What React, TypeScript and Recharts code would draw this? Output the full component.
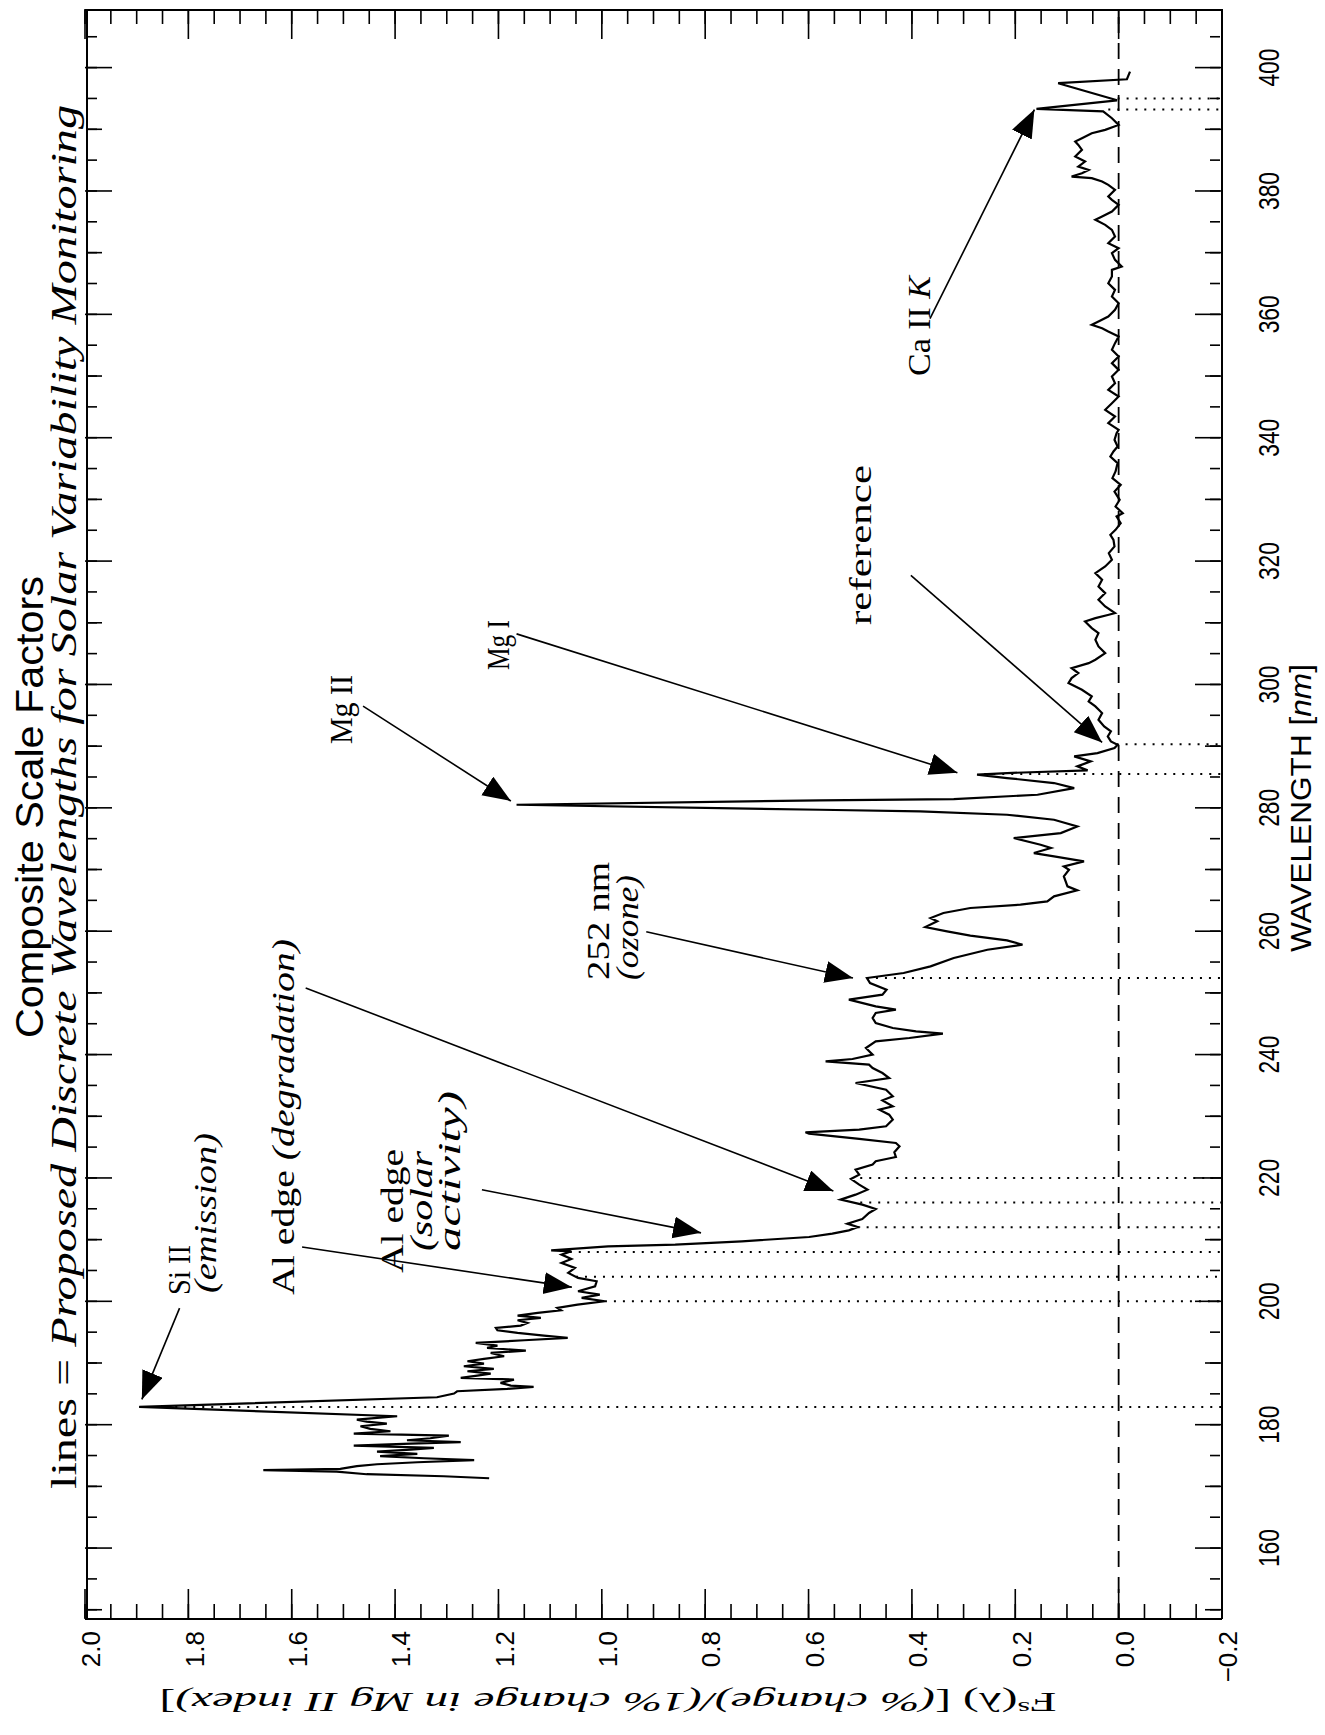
import React from 'react';
import { LineChart, Line, XAxis, YAxis, ReferenceLine } from 'recharts';

const CHART_W = 1735;
const CHART_H = 1325;

const WL_DOMAIN: [number, number] = [148.5, 409.5];
const FS_DOMAIN: [number, number] = [-0.2, 2.0];

const WL_MAJOR_TICKS = [160, 180, 200, 220, 240, 260, 280, 300, 320, 340, 360, 380, 400];
const WL_MID_TICKS = [150, 170, 190, 210, 230, 250, 270, 290, 310, 330, 350, 370, 390];
const WL_MINOR_TICKS = [150, 155, 160, 165, 170, 175, 180, 185, 190, 195, 200, 205, 210, 215, 220, 225, 230, 235, 240, 245, 250, 255, 260, 265, 270, 275, 280, 285, 290, 295, 300, 305, 310, 315, 320, 325, 330, 335, 340, 345, 350, 355, 360, 365, 370, 375, 380, 385, 390, 395, 400, 405];
const FS_MAJOR_TICKS = [-0.2, 0, 0.2, 0.4, 0.6, 0.8, 1.0, 1.2, 1.4, 1.6, 1.8, 2.0];
const FS_MINOR_TICKS = [-0.2, -0.15, -0.1, -0.05, 0, 0.05, 0.1, 0.15, 0.2, 0.25, 0.3, 0.35, 0.4, 0.45, 0.5, 0.55, 0.6, 0.65, 0.7, 0.75, 0.8, 0.85, 0.9, 0.95, 1.0, 1.05, 1.1, 1.15, 1.2, 1.25, 1.3, 1.35, 1.4, 1.45, 1.5, 1.55, 1.6, 1.65, 1.7, 1.75, 1.8, 1.85, 1.9, 1.95, 2.0];

// spectrum, [wavelength nm, Fs]
const SEG_FUV: [number, number][] = [
  [171.32, 1.218], [171.64, 1.306], [171.97, 1.455], [172.4, 1.513], [172.62, 1.655], [172.83, 1.506],
  [173.27, 1.474], [173.59, 1.435], [173.91, 1.357], [174.24, 1.247], [174.56, 1.344], [174.89, 1.429],
  [175.26, 1.357], [175.64, 1.435], [175.97, 1.37], [176.24, 1.325], [176.62, 1.48], [176.94, 1.37],
  [177.16, 1.273], [177.48, 1.377], [177.8, 1.332], [178.24, 1.296], [178.56, 1.48], [178.94, 1.409],
  [179.32, 1.448], [179.75, 1.467], [180.18, 1.416], [180.5, 1.455], [180.83, 1.474], [181.1, 1.435],
  [181.37, 1.396], [182.88, 1.895], [184.45, 1.319],
];
const SEG_SI: [number, number][] = [
  [185.04, 1.286], [185.42, 1.28], [185.8, 1.183], [186.12, 1.132], [186.34, 1.176], [186.77, 1.196],
  [187.31, 1.17], [187.58, 1.273], [187.96, 1.241], [188.28, 1.215], [188.66, 1.26], [189.04, 1.209],
  [189.47, 1.267], [189.9, 1.228], [190.28, 1.26], [190.66, 1.228], [191.09, 1.189], [191.63, 1.215],
  [192.01, 1.147], [192.44, 1.222], [192.82, 1.202], [193.25, 1.244], [193.69, 1.15], [194.07, 1.066],
  [194.44, 1.112], [194.87, 1.163], [195.31, 1.202], [195.69, 1.205], [196.06, 1.157], [196.5, 1.144],
  [196.93, 1.163], [197.31, 1.118], [197.69, 1.163], [198.12, 1.124], [198.55, 1.079], [198.93, 1.086],
  [199.47, 1.047],
];
const SEG_AL: [number, number][] = [
  [200.01, 0.994], [200.55, 1.039], [201.09, 1.004], [201.63, 1.046], [202.44, 1.013], [203.25, 1.01],
  [203.79, 1.046], [204.6, 1.065], [205.41, 1.052], [206.22, 1.078], [206.87, 1.059], [207.57, 1.078],
  [208.11, 1.059], [208.27, 1.098], [208.92, 0.988], [209.19, 0.858], [209.73, 0.729], [210.43, 0.599],
  [210.97, 0.554], [211.51, 0.522], [212.05, 0.505], [212.59, 0.525], [213.35, 0.496], [214.32, 0.483],
  [214.97, 0.47], [215.67, 0.496], [216.48, 0.538], [217.29, 0.509], [218.1, 0.486], [218.91, 0.502],
  [219.83, 0.518], [220.54, 0.502], [221.35, 0.509], [222.16, 0.476], [222.7, 0.47], [223.4, 0.431],
  [224.16, 0.434], [225.13, 0.424], [225.67, 0.431], [226.32, 0.502], [227.18, 0.599], [227.4, 0.606],
  [227.83, 0.502], [228.37, 0.45], [229.45, 0.437], [230.26, 0.444], [231.07, 0.463], [231.61, 0.437],
  [232.58, 0.457], [233.23, 0.437], [234.31, 0.45], [235.39, 0.509], [236.2, 0.444], [237.01, 0.457],
  [237.82, 0.476], [238.36, 0.483], [238.9, 0.567], [239.28, 0.515], [239.98, 0.476], [241.07, 0.489],
  [242.15, 0.47], [242.69, 0.405], [243.39, 0.34], [243.77, 0.392], [244.31, 0.437], [245.12, 0.47],
  [245.93, 0.476], [246.74, 0.47], [247.28, 0.431], [247.82, 0.47], [248.9, 0.522], [249.71, 0.457],
];
const SEG_MG: [number, number][] = [
  [250.52, 0.449], [251.6, 0.481], [252.41, 0.487], [253.22, 0.416], [254.3, 0.364], [255.65, 0.319],
  [257.0, 0.254], [257.81, 0.186], [258.52, 0.216], [259.27, 0.287], [259.97, 0.332], [260.68, 0.374],
  [261.6, 0.351], [262.13, 0.364], [262.95, 0.339], [263.76, 0.287], [264.3, 0.19], [264.84, 0.138],
  [265.65, 0.125], [266.62, 0.08], [267.27, 0.099], [268.89, 0.106], [269.97, 0.096], [270.51, 0.106],
  [271.32, 0.067], [272.13, 0.125], [272.67, 0.164], [273.48, 0.131], [274.02, 0.151], [275.1, 0.203],
  [275.91, 0.112], [276.99, 0.08], [278.07, 0.125], [278.88, 0.216], [279.42, 0.384], [279.69, 0.578],
  [280.5, 1.165], [281.21, 0.578], [281.42, 0.319], [282.12, 0.157], [283.2, 0.086], [284.02, 0.125],
  [284.83, 0.216], [285.37, 0.274], [285.64, 0.216], [286.07, 0.06], [286.72, 0.08], [287.53, 0.054],
  [288.34, 0.086], [288.88, 0.041], [289.69, 0.008], [290.23, 0.002], [290.77, 0.015], [291.58, 0.021],
  [292.39, 0.015], [293.2, 0.028],
];
const SEG_NUV: [number, number][] = [
  [294.28, 0.039], [295.36, 0.032], [296.44, 0.045], [297.25, 0.058], [298.06, 0.052], [299.14, 0.071],
  [300.22, 0.097], [301.03, 0.091], [301.84, 0.078], [302.65, 0.091], [303.46, 0.058], [304.0, 0.045],
  [305.08, 0.026], [306.16, 0.039], [307.24, 0.045], [308.32, 0.039], [309.13, 0.052], [310.22, 0.065],
  [310.76, 0.045], [311.3, 0.019], [311.57, 0.007], [312.65, 0.026], [313.73, 0.039], [314.81, 0.026],
  [315.89, 0.039], [316.97, 0.032], [318.05, 0.045], [319.13, 0.026], [320.21, 0.013], [321.29, 0.019],
  [322.37, 0.008], [323.45, 0.01], [324.26, 0.016], [325.07, 0.006], [326.15, -0.004], [327.23, 0.004],
  [327.77, -0.008], [328.85, 0.006], [329.93, -0.002], [331.28, 0.008], [332.37, -0.004], [333.45, 0.012],
  [334.53, 0.006], [335.88, 0.002], [336.96, 0.016], [337.77, 0.01], [338.58, 0.002], [339.66, 0.008],
];
const SEG_CA: [number, number][] = [
  [340.74, 0.004], [341.28, 0.0], [342.36, 0.02], [343.44, 0.007], [344.52, 0.026], [345.6, 0.013],
  [346.68, 0.0], [347.76, 0.02], [348.84, 0.007], [349.92, 0.013], [351.0, 0.0], [352.09, 0.013],
  [353.17, 0.0], [354.25, 0.013], [355.33, 0.007], [356.41, 0.0], [357.22, 0.02], [357.76, 0.032],
  [358.3, 0.052], [358.84, 0.039], [359.65, 0.02], [360.73, 0.007], [361.81, 0.0], [362.89, 0.013],
  [363.97, 0.007], [365.05, 0.02], [366.13, 0.013], [367.21, 0.013], [367.75, -0.006], [368.83, 0.007],
  [369.92, 0.013], [370.72, 0.0], [371.53, 0.02], [372.61, 0.007], [373.69, 0.013], [374.51, 0.026],
  [375.32, 0.045], [375.86, 0.032], [376.67, 0.013], [377.75, 0.0], [378.56, 0.013], [379.1, 0.02],
  [380.18, 0.007], [380.99, 0.02], [381.53, 0.032], [382.07, 0.052], [382.34, 0.091], [382.88, 0.071],
  [383.42, 0.058], [383.96, 0.078], [384.77, 0.065], [385.58, 0.084], [386.66, 0.071], [387.47, 0.078],
  [388.01, 0.084], [388.55, 0.071], [389.36, 0.052], [389.9, 0.026], [390.71, 0.0], [391.79, 0.013],
  [392.9, 0.03], [393.31, 0.159], [394.7, 0.003], [397.47, 0.117], [398.11, -0.016], [399.36, -0.022],
];

const SPECTRUM = [...SEG_FUV, ...SEG_SI, ...SEG_AL, ...SEG_MG, ...SEG_NUV, ...SEG_CA].map(([wl, fs]) => ({ wl, fs }));

// proposed discrete wavelengths (dotted markers), and where each marker leaves the curve
const MARKED_WL = [182.88, 200.0, 204.0, 208.0, 212.0, 216.0, 220.0, 252.4, 285.5, 290.3, 393.2, 395.0];
const MARKED_TOP = [1.895, 0.994, 1.05, 1.062, 0.505, 0.5, 0.5, 0.487, 0.26, 0.004, 0.02, 0.002];

// annotation arrows: [tail wl, tail fs, tip wl, tip fs]
const ARROWS: [number, number, number, number][] = [
  [198.9, 1.817, 184.1, 1.89],
  [208.8, 1.58, 202.3, 1.058],
  [250.8, 1.573, 217.9, 0.552],
  [218.1, 1.232, 211.1, 0.808],
  [259.9, 0.914, 252.4, 0.514],
  [296.5, 1.462, 281.1, 1.176],
  [308.2, 1.165, 285.7, 0.312],
  [317.7, 0.402, 290.6, 0.032],
  [359.3, 0.365, 393.2, 0.163],
];

const INK = '#000';
const SANS = 'Liberation Sans, Arial, sans-serif';
const SERIF = 'Liberation Serif, Times New Roman, serif';

const fmtFs = (v: number) => {
  const s = Math.abs(v).toFixed(1);
  return v < -1e-9 ? `\u2212${s}` : s;
};

const WlTick = (props: any) => {
  const { x, y, payload } = props;
  return (
    <text x={x} y={y + 57} textAnchor="middle" fontFamily={SANS} fontSize={30} textLength={38} lengthAdjust="spacingAndGlyphs" fill={INK}>
      {payload.value}
    </text>
  );
};

const FsTick = (props: any) => {
  const { x, y, payload } = props;
  return (
    <text x={x - 12} y={y + 6} dy="0.355em" textAnchor="end" fontFamily={SANS} fontSize={26} fill={INK}>
      {fmtFs(payload.value)}
    </text>
  );
};

// tick marks only, no label
const NoLabel = () => <g />;

const arrowShape = (p: any) => (
  <line x1={p.x1} y1={p.y1} x2={p.x2} y2={p.y2} stroke={INK} strokeWidth={1.6} markerEnd="url(#arrowHead)" />
);

type TxtProps = { x: number; y: number; len?: number; size?: number; family?: string; anchor?: 'start' | 'middle' | 'end'; children: React.ReactNode };
const Txt = ({ x, y, len, size = 32, family = SERIF, anchor = 'start', children }: TxtProps) => (
  <text x={x} y={y} fontSize={size} fontFamily={family} textAnchor={anchor} fill={INK}
    {...(len ? { textLength: len, lengthAdjust: 'spacingAndGlyphs' } : {})}>
    {children}
  </text>
);
const I = ({ children }: { children: React.ReactNode }) => <tspan fontStyle="italic">{children}</tspan>;

const tickLineStyle = { stroke: INK, strokeWidth: 1.6 };
const frameStyle = { stroke: INK, strokeWidth: 2 };

const wlTickAxis = (id: string, orientation: 'top' | 'bottom', ticks: number[], size: number, frame: boolean) => (
  <XAxis key={id} xAxisId={id} dataKey="wl" type="number" domain={WL_DOMAIN} allowDataOverflow ticks={ticks} interval={0}
    orientation={orientation} mirror height={1} tick={NoLabel} tickSize={size} tickLine={tickLineStyle} axisLine={frame ? frameStyle : false} />
);
const fsTickAxis = (id: string, orientation: 'left' | 'right', ticks: number[], size: number, frame: boolean) => (
  <YAxis key={id} yAxisId={id} type="number" domain={FS_DOMAIN} allowDataOverflow ticks={ticks} interval={0}
    orientation={orientation} mirror width={1} tick={NoLabel} tickSize={size} tickLine={tickLineStyle} axisLine={frame ? frameStyle : false} />
);

export default function App() {
  return (
    <div style={{ position: 'fixed', left: 0, top: 0, width: 1325, height: 1735, overflow: 'hidden', background: '#fff' }}>
      <div style={{ position: 'absolute', left: 0, top: 0, width: CHART_W, height: CHART_H, transformOrigin: '0 0', transform: `translate(0px, ${CHART_W}px) rotate(-90deg)` }}>
        <LineChart width={CHART_W} height={CHART_H} data={SPECTRUM} margin={{ top: 85, right: 9, bottom: 63, left: 56 }}>
          <XAxis xAxisId="wl" dataKey="wl" type="number" domain={WL_DOMAIN} allowDataOverflow ticks={WL_MAJOR_TICKS} interval={0}
            height={40} tickLine={false} tickSize={0} tickMargin={0} axisLine={frameStyle} tick={WlTick} />
          {wlTickAxis('wlMinB', 'bottom', WL_MINOR_TICKS, 10, false)}
          {wlTickAxis('wlMidB', 'bottom', WL_MID_TICKS, 16, false)}
          {wlTickAxis('wlMajB', 'bottom', WL_MAJOR_TICKS, 27, false)}
          {wlTickAxis('wlMinT', 'top', WL_MINOR_TICKS, 10, true)}
          {wlTickAxis('wlMidT', 'top', WL_MID_TICKS, 16, false)}
          {wlTickAxis('wlMajT', 'top', WL_MAJOR_TICKS, 27, false)}

          <YAxis yAxisId="fs" type="number" domain={FS_DOMAIN} allowDataOverflow ticks={FS_MAJOR_TICKS} interval={0}
            width={60} tickLine={false} tickSize={0} tickMargin={0} axisLine={frameStyle} tick={FsTick} />
          {fsTickAxis('fsMinL', 'left', FS_MINOR_TICKS, 14, false)}
          {fsTickAxis('fsMajL', 'left', FS_MAJOR_TICKS, 30, false)}
          {fsTickAxis('fsMinR', 'right', FS_MINOR_TICKS, 14, true)}
          {fsTickAxis('fsMajR', 'right', FS_MAJOR_TICKS, 30, false)}

          <ReferenceLine xAxisId="wl" yAxisId="fs" y={0} stroke={INK} strokeWidth={1.8} strokeDasharray="16 10" />
          {MARKED_WL.map((wl, i) => (
            <ReferenceLine key={`m${i}`} xAxisId="wl" yAxisId="fs" segment={[{ x: wl, y: MARKED_TOP[i] }, { x: wl, y: -0.2 }]}
              stroke={INK} strokeWidth={2} strokeDasharray="2 7" ifOverflow="visible" />
          ))}
          {ARROWS.map(([x1, y1, x2, y2], i) => (
            <ReferenceLine key={`a${i}`} xAxisId="wl" yAxisId="fs" segment={[{ x: x1, y: y1 }, { x: x2, y: y2 }]}
              ifOverflow="visible" shape={arrowShape} />
          ))}
          <Line xAxisId="wl" yAxisId="fs" dataKey="fs" type="linear" stroke={INK} strokeWidth={2.2} dot={false} activeDot={false} isAnimationActive={false} />
        </LineChart>

        <svg width={CHART_W} height={CHART_H} style={{ position: 'absolute', left: 0, top: 0, pointerEvents: 'none' }}>
          <defs>
            <marker id="arrowHead" markerUnits="userSpaceOnUse" markerWidth={30} markerHeight={24} refX={28} refY={11} orient="auto">
              <path d="M0,0 L28,11 L0,22 Z" fill={INK} />
            </marker>
          </defs>
          {/* titles */}
          <Txt x={697} y={43} len={462} size={38} family={SANS}>Composite Scale Factors</Txt>
          <Txt x={246} y={76} len={1384} size={36}>lines = <I>Proposed Discrete Wavelengths for Solar Variability Monitoring</I></Txt>

          {/* annotations */}
          <Txt x={440} y={190} len={50}>Si II</Txt>
          <Txt x={442} y={216} len={160}><I>(emission)</I></Txt>
          <Txt x={440} y={294} len={356}>Al edge <I>(degradation)</I></Txt>
          <Txt x={462} y={403} len={124}>Al edge</Txt>
          <Txt x={484} y={432} len={100}><I>(solar</I></Txt>
          <Txt x={484} y={460} len={160}><I>activity)</I></Txt>
          <Txt x={755} y={609} len={118}>252 nm</Txt>
          <Txt x={755} y={638} len={105}><I>(ozone)</I></Txt>
          <Txt x={991} y={352} len={69}>Mg II</Txt>
          <Txt x={1065} y={509} len={50}>Mg I</Txt>
          <Txt x={1110} y={871} len={160}>reference</Txt>
          <Txt x={1359} y={930} len={100}>Ca II <I>K</I></Txt>

          {/* axis titles */}
          <Txt x={783} y={1311} len={288} size={29} family={SANS}>WAVELENGTH  [<I>nm</I>]</Txt>
          <g transform="translate(42,608) rotate(-90)">
            <Txt x={0} y={0} len={897} size={28} anchor="middle">
              F<tspan fontSize={19} dy={-9}>s</tspan><tspan dy={9}>(λ)    [</tspan><I>(% change)/(1% change in Mg II index)</I>]
            </Txt>
          </g>
        </svg>
      </div>
    </div>
  );
}
